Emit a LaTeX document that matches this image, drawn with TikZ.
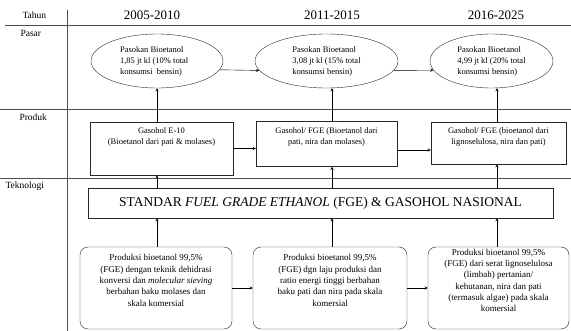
\documentclass[tikz,border=0pt]{standalone}
\usepackage{fontspec}
\setmainfont{Liberation Serif}
\usetikzlibrary{shapes.geometric}

\begin{document}
\begin{tikzpicture}[x=1pt,y=-1pt,>=stealth,
  grid/.style={draw=black!70},
  oval/.style={draw=black!85,ellipse,minimum height=54pt,inner sep=0pt,align=left,font=\fontsize{8.5}{11}\selectfont},
  prodbox/.style={draw=black!85,inner sep=0pt,font=\fontsize{8.5}{11}\selectfont},
  techbox/.style={draw=black!85,rounded corners=8pt,inner sep=0pt,minimum height=82pt,align=center,font=\fontsize{9}{11.3}\selectfont},
  rowlbl/.style={anchor=west,font=\fontsize{9.5}{11}\selectfont},
  yr/.style={font=\fontsize{13}{15}\selectfont}]
  \useasboundingbox (0,0) rectangle (571,331);
  % table lines
  \draw[grid] (5,25) -- (571,25);
  \draw[grid] (0,109) -- (571,109);
  \draw[grid] (0,178) -- (571,178);
  \draw[grid] (67,10) -- (67,331);
  % header and row labels
  \node[rowlbl] (tahun) at (19,15) {Tahun};
  \node[yr] (y1) at (152,15) {2005-2010};
  \node[yr] (y2) at (332,15) {2011-2015};
  \node[yr] (y3) at (496,15) {2016-2025};
  \node[rowlbl] (pasar) at (17,33) {Pasar};
  \node[rowlbl] (produk) at (16,117) {Produk};
  \node[rowlbl] (tekno) at (2,186) {Teknologi};
  % columns of the vertical arrows
  \coordinate (c1) at (157,0);
  \coordinate (c2) at (332,0);
  \coordinate (c3) at (497,0);
  % Pasar
  \node[oval,minimum width=132pt] (e1) at (157,61) {Pasokan Bioetanol\\1,85 jt kl (10\% total\\konsumsi\ \ bensin)\hspace*{12pt}};
  \node[oval,minimum width=143pt] (e2) at (326.5,61) {Pasokan Bioetanol\\3,08 jt kl (15\% total\\konsumsi bensin)};
  \node[oval,minimum width=123pt] (e3) at (491.5,61) {Pasokan Bioetanol\\4,99 jt kl (20\% total\\konsumsi bensin)};
  % Produk
  \node[prodbox] (p1) at (161.5,148.5) {\parbox[c][53pt][t]{143pt}{\centering\vspace{6pt}Gasohol E-10\\(Bioetanol dari pati \& molases)}};
  \node[prodbox] (p2) at (326.5,144) {\parbox[c][45pt][t]{141pt}{\centering\vspace{6pt}Gasohol/ FGE (Bioetanol dari\\pati, nira dan molases)}};
  \node[prodbox] (p3) at (498.5,143) {\parbox[c][42pt][t]{135pt}{\centering\vspace{6pt}Gasohol/ FGE (bioetanol dari\\lignoselulosa, nira dan pati)}};
  % Teknologi
  \node[draw=black!85,minimum width=465pt,minimum height=30pt,inner sep=0pt,font=\fontsize{13.5}{15}\selectfont] (std) at (320.5,203) {STANDAR \textit{FUEL GRADE ETHANOL} (FGE) \& GASOHOL NASIONAL};
  \node[techbox,minimum width=152pt] (t1) at (156,288) {Produksi bioetanol 99,5\%\\(FGE) dengan teknik dehidrasi\\konversi dan \textit{molecular sieving}\\berbahan baku molases dan\\skala komersial\\[4pt]};
  \node[techbox,minimum width=154pt] (t2) at (330,288) {Produksi bioetanol 99,5\%\\(FGE) dgn laju produksi dan\\ratio energi tinggi berbahan\\baku pati dan nira pada skala\\komersial\\[4pt]};
  \node[techbox,minimum width=141pt] (t3) at (498.5,288) {Produksi bioetanol 99,5\%\\(FGE) dari serat lignoselulosa\\(limbah) pertanian/\\kehutanan, nira dan pati\\(termasuk algae) pada skala\\komersial\\[4pt]};
  % arrows in time
  \draw[->] (e1.-8.5) -- (e2.188);
  \draw[->] (e2.-8) -- (e3.189);
  \draw[->] (p1.east) -- (p1.east -| p2.west);
  \draw[->] ([yshift=-6pt]p2.east) -- ([yshift=-6pt]p2.east -| p3.west);
  \draw[->] (t1) -- (t2);
  \draw[->] (t2) -- (t3);
  % arrows upward
  \draw[->] (p1.north -| c1) -- (e1.south -| c1);
  \draw[->] (p2.north -| c2) -- (e2.south -| c2);
  \draw[->] (p3.north -| c3) -- (e3.south -| c3);
  \draw[->] (std.north -| c1) -- (p1.south -| c1);
  \draw[->] (std.north -| c2) -- (p2.south -| c2);
  \draw[->] (std.north -| c3) -- (p3.south -| c3);
  \draw[->] (t1.north -| c1) -- (std.south -| c1);
  \draw[->] (t2.north -| c2) -- (std.south -| c2);
  \draw[->] (t3.north -| c3) -- (std.south -| c3);
\end{tikzpicture}
\end{document}
